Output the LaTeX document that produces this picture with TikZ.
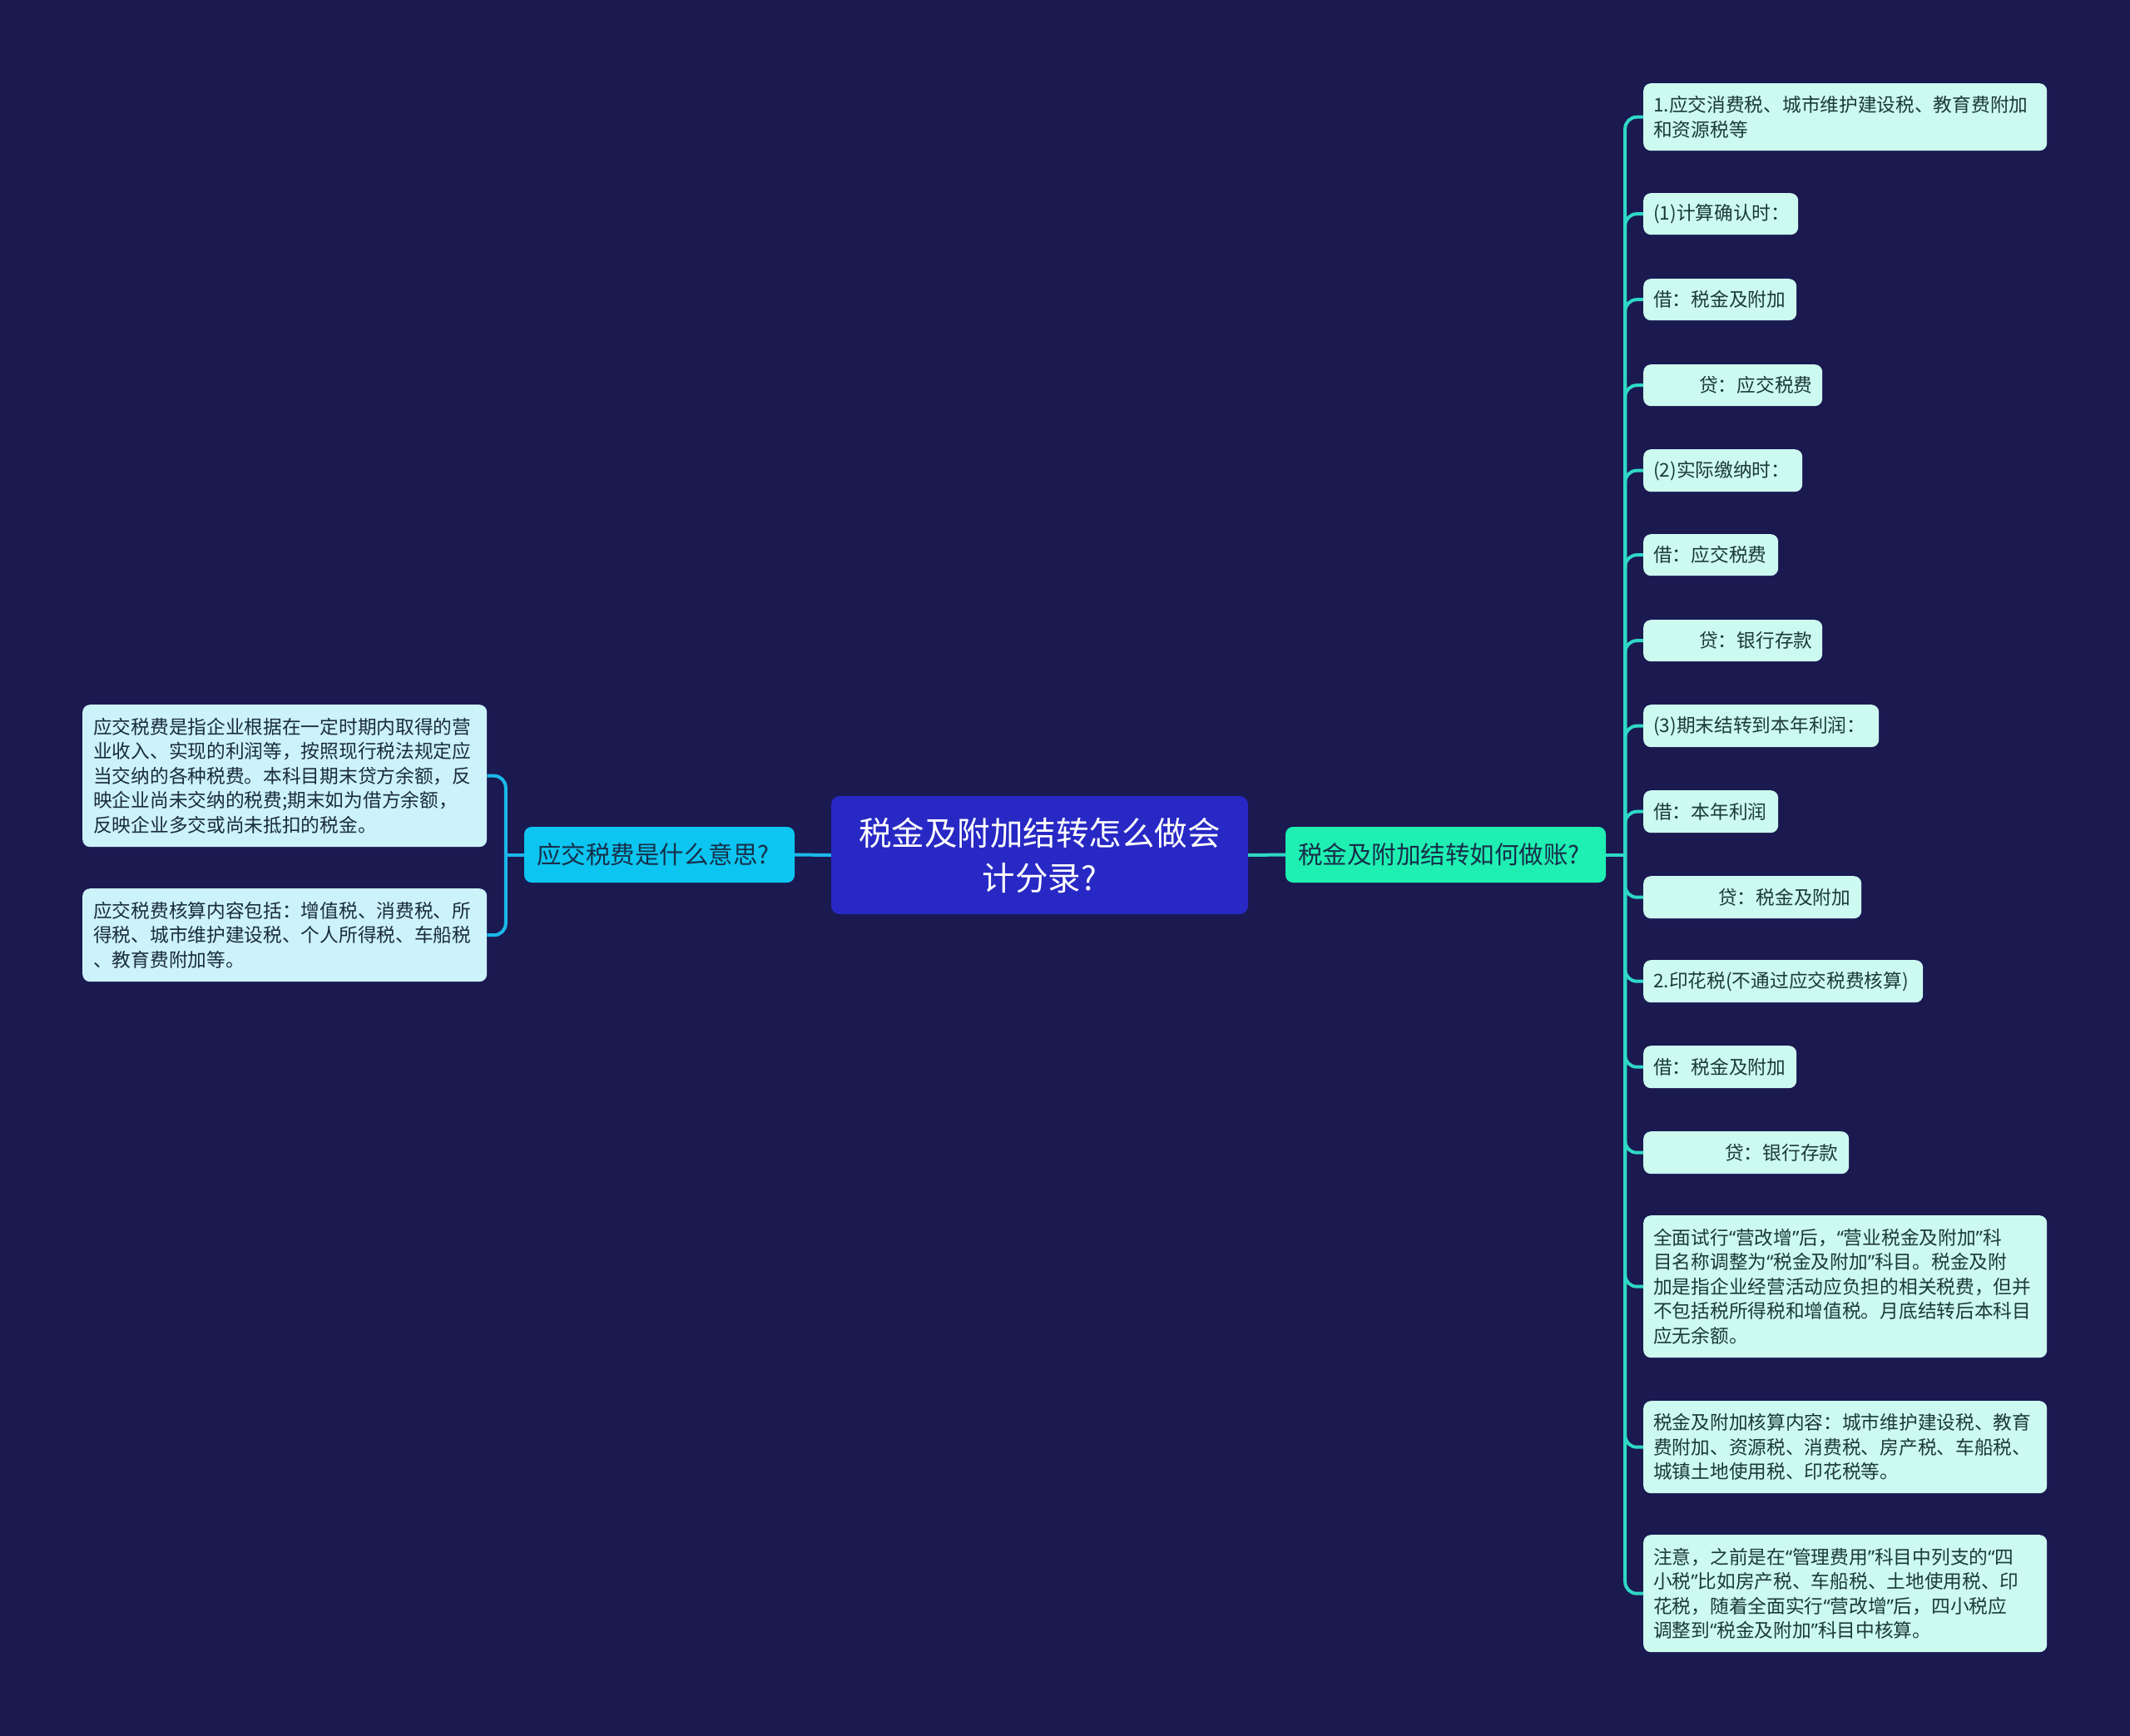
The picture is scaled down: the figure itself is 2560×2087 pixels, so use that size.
\documentclass[tikz,border=0pt]{standalone}
\usepackage{fontspec}
\setmainfont{Noto Sans CJK SC}
\newfontfamily\latq{Noto Sans}
\newcommand{\myoq}{{\latq “}}
\newcommand{\mycq}{{\latq ”}}
\usetikzlibrary{calc}
\definecolor{bgc}{HTML}{1A1950}
\definecolor{centerfill}{HTML}{2828C4}
\definecolor{lbfill}{HTML}{0CC5F0}
\definecolor{rbfill}{HTML}{1FEFB2}
\definecolor{rleaffill}{HTML}{CCFAF0}
\definecolor{lleaffill}{HTML}{CCF2FA}
\definecolor{rleaftext}{HTML}{1C3A36}
\definecolor{lleaftext}{HTML}{1A2C3C}
\definecolor{branchtext}{HTML}{15304A}
\definecolor{rconnc}{HTML}{2FD8C6}
\definecolor{lconnc}{HTML}{1BB8EA}
\tikzset{
  box/.style={rounded corners=9pt, inner xsep=12pt, inner ysep=0pt, anchor=north west, align=left,
    font=\fontsize{22.7}{29.5}\selectfont},
  rleaf/.style={box, fill=rleaffill, text=rleaftext},
  lleaf/.style={box, fill=lleaffill, text=lleaftext, inner xsep=13pt},
  branchbox/.style={rounded corners=9pt, inner xsep=15pt, inner ysep=0pt, align=left, text=branchtext,
    font=\fontsize{29.5}{36}\selectfont, minimum height=67pt},
  centerbox/.style={rounded corners=10pt, inner sep=0pt, align=center, text=white, fill=centerfill,
    font=\fontsize{39.5}{54}\selectfont, minimum width=501pt, minimum height=142pt},
  rconn/.style={draw=rconnc, line width=4pt, rounded corners=14pt},
  lconn/.style={draw=lconnc, line width=4pt, rounded corners=14pt}
}
\begin{document}
\begin{tikzpicture}[x=1pt,y=-1pt]
\fill[bgc] (0,0) rectangle (2560,2087);
\useasboundingbox (0,0) rectangle (2560,2087);

% central and branches
\node[centerbox] (c) at (1249.5,1028) {税金及附加结转怎么做会\\计分录?};
\node[branchbox, fill=lbfill, text width=295pt] (lb) at (792.5,1027.5) {应交税费是什么意思?};
\node[branchbox, fill=rbfill, text width=355pt] (rb) at (1737.5,1027.5) {税金及附加结转如何做账?};

% left leaves
\node[lleaf, text width=460pt, minimum height=171pt] (l1) at (99,847)
  {应交税费是指企业根据在一定时期内取得的营\\业收入、实现的利润等，按照现行税法规定应\\当交纳的各种税费。本科目期末贷方余额，反\\映企业尚未交纳的税费;期末如为借方余额，\\反映企业多交或尚未抵扣的税金。};
\node[lleaf, text width=460pt, minimum height=112pt] (l2) at (99,1068)
  {应交税费核算内容包括：增值税、消费税、所\\得税、城市维护建设税、个人所得税、车船税\\、教育费附加等。};

% right leaves
\node[rleaf, text width=461pt, minimum height=81pt] (r1) at (1975,100)
  {1.应交消费税、城市维护建设税、教育费附加\\和资源税等};
\node[rleaf, text width=162pt, minimum height=50pt] (r2) at (1975,232) {(1)计算确认时：};
\node[rleaf, text width=160pt, minimum height=50pt] (r3) at (1975,335) {借：税金及附加};
\node[rleaf, text width=191pt, minimum height=50pt] (r4) at (1975,438) {\hspace*{55pt}贷：应交税费};
\node[rleaf, text width=167pt, minimum height=51pt] (r5) at (1975,540) {(2)实际缴纳时：};
\node[rleaf, text width=138pt, minimum height=50pt] (r6) at (1975,642) {借：应交税费};
\node[rleaf, text width=191pt, minimum height=50pt] (r7) at (1975,745) {\hspace*{55pt}贷：银行存款};
\node[rleaf, text width=259pt, minimum height=51pt] (r8) at (1975,847) {(3)期末结转到本年利润：};
\node[rleaf, text width=138pt, minimum height=51pt] (r9) at (1975,950) {借：本年利润};
\node[rleaf, text width=238pt, minimum height=51pt] (r10) at (1975,1053) {\hspace*{78pt}贷：税金及附加};
\node[rleaf, text width=312pt, minimum height=51pt] (r11) at (1975,1154) {2.印花税(不通过应交税费核算)};
\node[rleaf, text width=160pt, minimum height=51pt] (r12) at (1975,1257) {借：税金及附加};
\node[rleaf, text width=223pt, minimum height=51pt] (r13) at (1975,1360) {\hspace*{86pt}贷：银行存款};
\node[rleaf, text width=461pt, minimum height=171pt] (r14) at (1975,1461)
  {全面试行\myoq 营改增\mycq 后，\myoq 营业税金及附加\mycq 科\\目名称调整为\myoq 税金及附加\mycq 科目。税金及附\\加是指企业经营活动应负担的相关税费，但并\\不包括税所得税和增值税。月底结转后本科目\\应无余额。};
\node[rleaf, text width=461pt, minimum height=111pt] (r15) at (1975,1684)
  {税金及附加核算内容：城市维护建设税、教育\\费附加、资源税、消费税、房产税、车船税、\\城镇土地使用税、印花税等。};
\node[rleaf, text width=461pt, minimum height=141pt] (r16) at (1975,1845)
  {注意，之前是在\myoq 管理费用\mycq 科目中列支的\myoq 四\\小税\mycq 比如房产税、车船税、土地使用税、印\\花税，随着全面实行\myoq 营改增\mycq 后，四小税应\\调整到\myoq 税金及附加\mycq 科目中核算。};

% connectors
\coordinate (lt) at ($(lb.west)+(-22,0)$);
\coordinate (rt) at ($(rb.east)+(23,0)$);
\draw[lconn] (c.west) -- (lb.east);
\draw[lconn] (lb.west) -- (lt);
\draw[lconn] (lt) |- (l1.east);
\draw[lconn] (lt) |- (l2.east);
\draw[rconn] (c.east) -- (rb.west);
\draw[rconn] (rb.east) -- (rt);
\foreach \i in {1,...,16} {\draw[rconn] (rt) |- (r\i.west);}
\end{tikzpicture}
\end{document}
